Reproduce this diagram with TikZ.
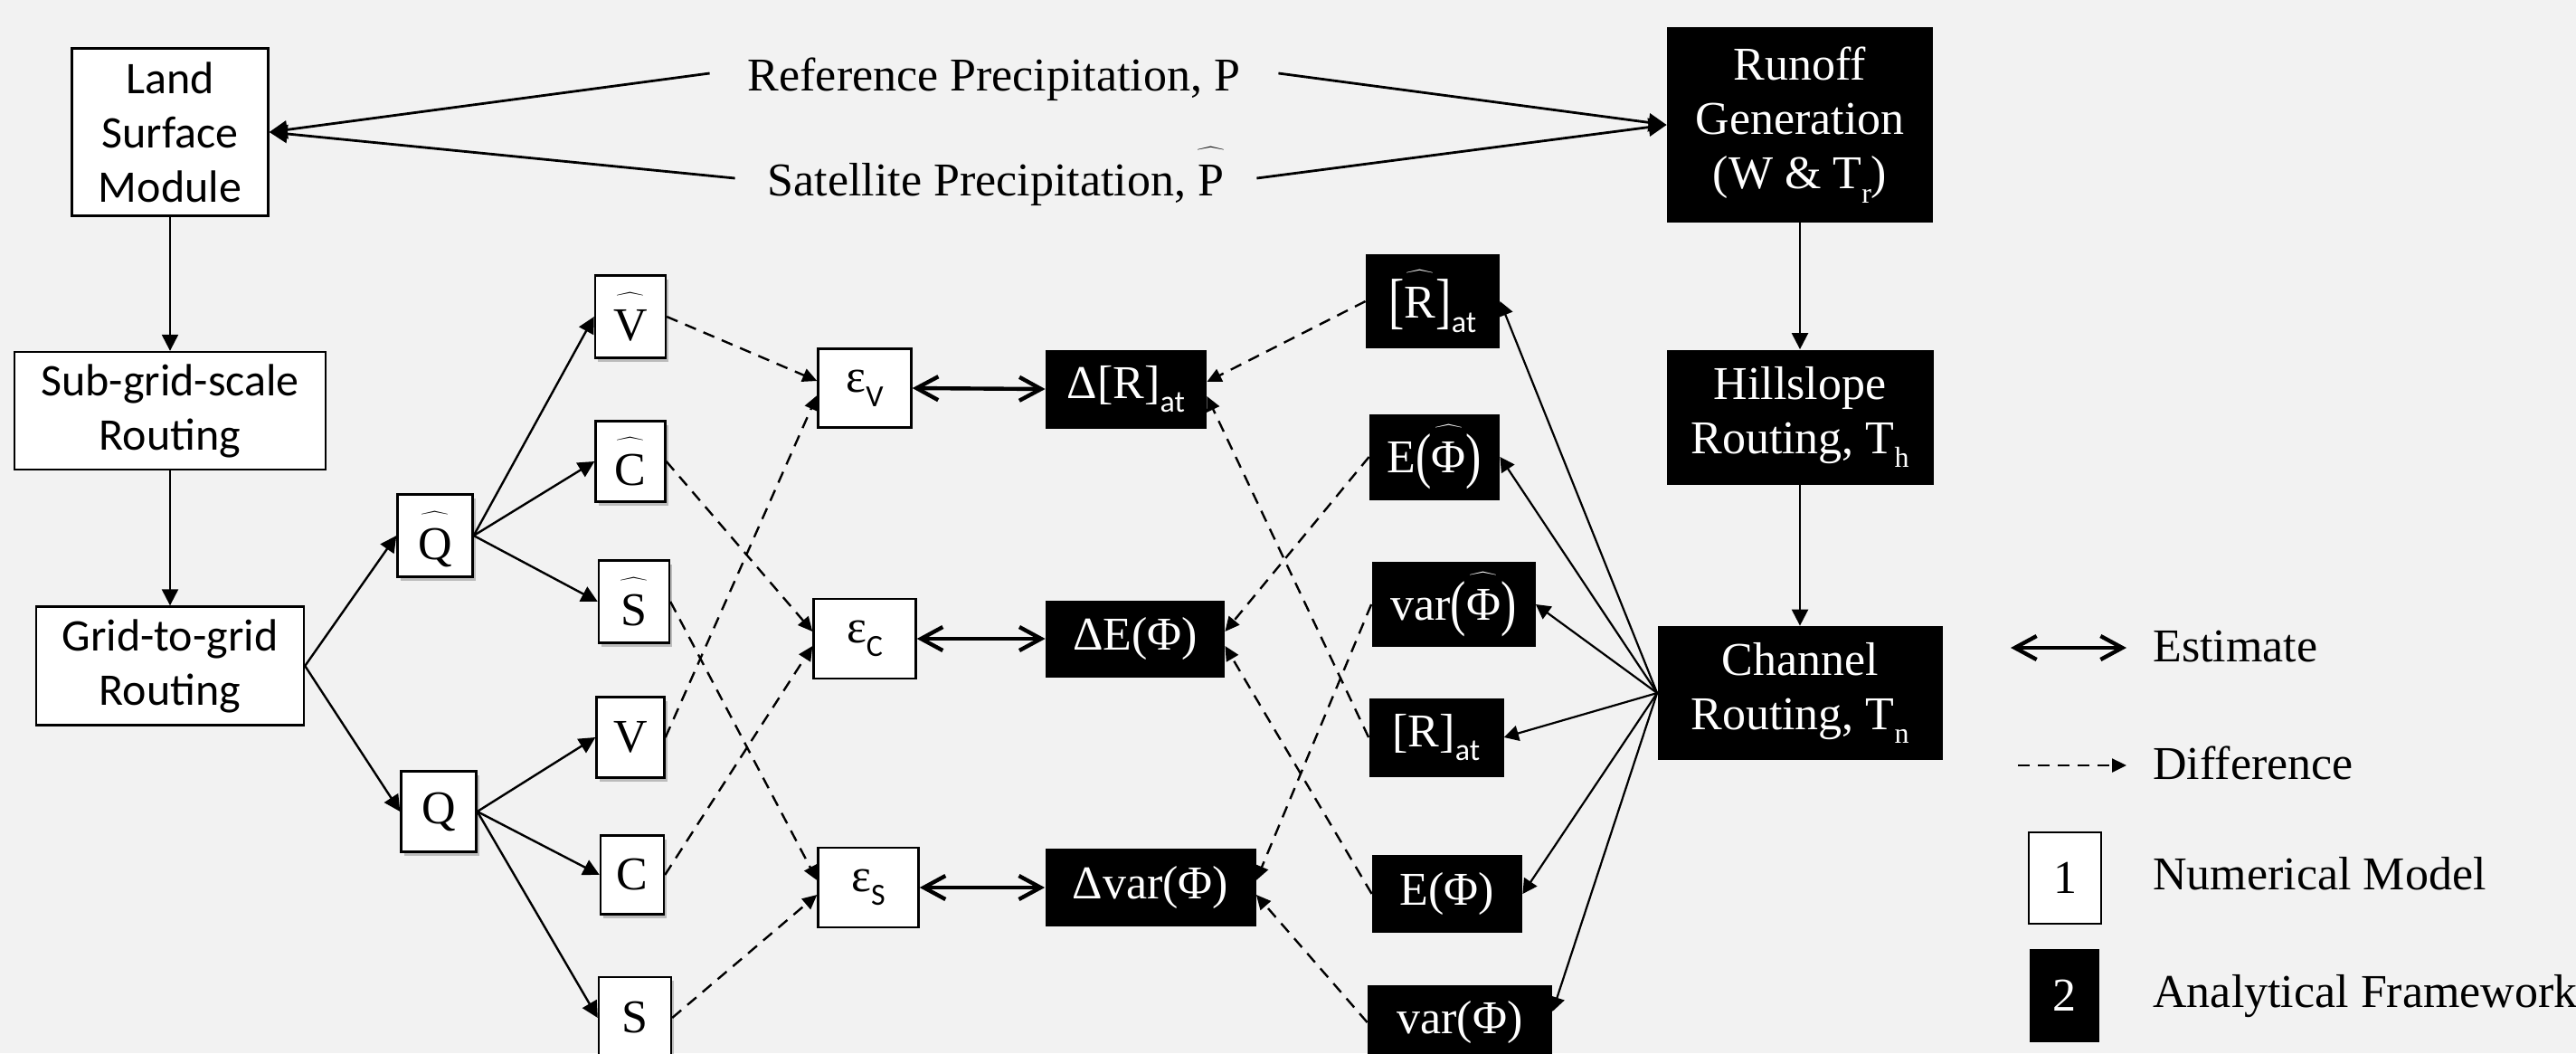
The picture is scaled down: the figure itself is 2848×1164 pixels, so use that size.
\RequirePackage{fix-cm}
\documentclass[tikz,border=0pt]{standalone}
\usepackage{fontspec}
\setmainfont{Liberation Serif}
\newfontfamily\calibri{Carlito}
\usepackage{graphicx}
\usetikzlibrary{arrows.meta,shadows}
\definecolor{bg}{HTML}{F2F2F2}
\newcommand\hatx[1]{\ensuremath{\widehat{\mbox{\raisebox{0pt}[0.9em][0pt]{#1}}}}}
\newcommand\sbs[1]{\raisebox{-0.3em}{\fontsize{16}{16}\selectfont #1}}
\newcommand\sbsf[1]{\raisebox{-0.3em}{\calibri\fontsize{17}{17}\selectfont #1}}
\newcommand\lp{\raisebox{-0.08em}{\scalebox{1}[1.3]{(}}}
\newcommand\rp{\raisebox{-0.08em}{\scalebox{1}[1.3]{)}}}
\newcommand\lb{\raisebox{-0.08em}{\scalebox{1}[1.3]{[}}}
\newcommand\rb{\raisebox{-0.08em}{\scalebox{1}[1.3]{]}}}
\tikzset{
  every node/.style={inner sep=0pt, font=\fontsize{26}{30}\selectfont},
  cal/.style={font=\calibri\fontsize{25}{30}\selectfont},
  wbox/.style={draw, line width=1.2pt, fill=white, align=center},
  bbox/.style={fill=black, text=white, align=center},
  shad/.style={drop shadow={shadow xshift=1.5pt, shadow yshift=-2pt, opacity=0.22, fill=black}},
  flow/.style={line width=1.2pt, -{Triangle[length=9pt,width=9pt]}},
  prec/.style={line width=1.4pt, -{Triangle[length=10pt,width=10pt]}},
  fan/.style={line width=1.1pt, -{Triangle[length=8pt,width=8.5pt]}},
  est/.style={line width=2.2pt, {Straight Barb[length=12pt,width=13pt]}-{Straight Barb[length=12pt,width=13pt]}},
  diff/.style={line width=1.2pt, dash pattern=on 6.5pt off 4.5pt, -{Triangle[length=8pt,width=7.5pt]}},
}
\begin{document}
\begin{tikzpicture}[x=0.5pt,y=-0.5pt]
\useasboundingbox (0,0) rectangle (2848,1164);
\clip (0,0) rectangle (2848,1164);
\fill[bg] (0,0) rectangle (2848,1164);

% left column
\node[wbox, cal, minimum width=108.5pt, minimum height=92.5pt] (land) at (188,146) {Land\\Surface\\Module};
\node[wbox, cal, minimum width=172pt, minimum height=65pt] (sub) at (188,454) {Sub-grid-scale\\Routing};
\node[wbox, cal, minimum width=148pt, minimum height=65.5pt] (grid) at (188,736) {Grid-to-grid\\Routing};

% precipitation labels
\node[text height=17pt, text depth=5pt, minimum width=314pt] (ref) at (1099,88) {Reference Precipitation, P};
\node[text height=17pt, text depth=5pt, minimum width=288pt] (sat) at (1101,204) {Satellite Precipitation, \hatx{P}};

% right column
\node[bbox, minimum width=147pt, minimum height=108pt] (run) at (1990,138) {Runoff\\Generation\\(W \& T\sbs{r})};
\node[bbox, minimum width=147.5pt, minimum height=74.5pt] (hill) at (1990,461) {Hillslope\\Routing, T\sbs{h}};
\node[bbox, minimum width=157.5pt, minimum height=74pt] (chan) at (1990,766) {Channel\\Routing, T\sbs{n}};

% Q boxes
\node[wbox, shad, minimum width=41.5pt, minimum height=45.5pt] (Qh) at (481,592) {\hatx{Q}};
\node[wbox, shad, minimum width=41.5pt, minimum height=44.5pt] (Q) at (485,897) {Q};

\node[wbox, shad, minimum width=39pt, minimum height=45.5pt] (Vh) at (697,350) {\hatx{V}};
\node[wbox, shad, minimum width=38.5pt, minimum height=44.5pt] (Ch) at (697,510) {\hatx{C}};
\node[wbox, shad, minimum width=39pt, minimum height=45.5pt] (Sh) at (701,665) {\hatx{S}};
\node[wbox, shad, minimum width=37.5pt, minimum height=44.5pt] (V) at (697,815) {V};
\node[wbox, shad, minimum width=35pt, minimum height=43.5pt] (C) at (699,967) {C};
\node[wbox, shad, minimum width=40pt, minimum height=45pt] (S) at (702,1125) {S};

% epsilon boxes
\node[wbox, minimum width=51.5pt, minimum height=43.5pt] (eV) at (956,429) {ε\sbsf{V}};
\node[wbox, minimum width=56.5pt, minimum height=44pt] (eC) at (956,706) {ε\sbsf{C}};
\node[wbox, minimum width=55.5pt, minimum height=44pt] (eS) at (960,981) {ε\sbsf{S}};

% delta boxes
\node[bbox, minimum width=89pt, minimum height=43.5pt] (dR) at (1245,430) {Δ[R]\sbsf{at}};
\node[bbox, minimum width=99pt, minimum height=42.5pt] (dE) at (1255,706) {ΔE(Φ)};
\node[bbox, minimum width=116.5pt, minimum height=43pt] (dV) at (1272,981) {Δvar(Φ)};

% statistic boxes
\node[bbox, minimum width=74pt, minimum height=52pt] (Rh) at (1584,333) {\lb\hatx{R}\rb\sbsf{at}};
\node[bbox, minimum width=72pt, minimum height=47.5pt] (Eh) at (1586,505) {E\lp\hatx{Φ}\rp};
\node[bbox, minimum width=90.5pt, minimum height=47pt] (VPh) at (1607,668) {var\lp\hatx{Φ}\rp};
\node[bbox, minimum width=74.5pt, minimum height=43.5pt] (R) at (1588,815) {[R]\sbsf{at}};
\node[bbox, minimum width=83pt, minimum height=43pt] (E) at (1600,988) {E(Φ)};
\node[bbox, minimum width=102pt, minimum height=41pt] (VP) at (1614,1130) {var(Φ)};

% legend
\coordinate (l1a) at (2223,716); \coordinate (l1b) at (2351,716);
\coordinate (l2a) at (2231,846); \coordinate (l2b) at (2351,846);
\node[wbox, line width=1pt, minimum width=40pt, minimum height=50.5pt] (k1) at (2283,970) {1};
\node[bbox, minimum width=38.5pt, minimum height=51.5pt] (k2) at (2282,1100) {2};
\node[anchor=base west] (t1) at (2380,731) {Estimate};
\node[anchor=base west] (t2) at (2380,861) {Difference};
\node[anchor=base west] (t3) at (2380,983) {Numerical Model};
\node[anchor=base west] (t4) at (2380,1113) {Analytical Framework};
\draw[est] (l1a) -- (l1b);
\draw[diff] (l2a) -- (l2b);

% solid flows
\draw[flow] (land) -- (sub);
\draw[flow] (sub) -- (grid);
\draw[flow] (grid.east) -- (Qh.west);
\draw[flow] (grid.east) -- (Q.west);
\draw[flow] (Qh.east) -- (Vh.west);
\draw[flow] (Qh.east) -- (Ch.west);
\draw[flow] (Qh.east) -- (Sh.west);
\draw[flow] (Q.east) -- (V.west);
\draw[flow] (Q.east) -- (C.west);
\draw[flow] (Q.east) -- (S.west);
\draw[flow] (run) -- (hill);
\draw[flow] (hill) -- (chan);
\draw[prec] ([yshift=3.5pt]ref.west) -- (land.east);
\draw[prec] ([yshift=3.5pt]sat.west) -- (land.east);
\draw[prec] ([yshift=3.5pt]ref.east) -- (run.west);
\draw[prec] ([yshift=3.5pt]sat.east) -- (run.west);
\draw[fan] (chan.west) -- (Rh.east);
\draw[fan] (chan.west) -- (Eh.east);
\draw[fan] (chan.west) -- (VPh.east);
\draw[fan] (chan.west) -- (R.east);
\draw[fan] (chan.west) -- (E.east);
\draw[fan] (chan.west) -- ([yshift=6pt]VP.east);

% estimates
\draw[est] (eV.east) -- (dR.west);
\draw[est] (eC.east) -- (dE.west);
\draw[est] (eS.east) -- (dV.west);

% differences
\draw[diff] (Vh.east) -- ([yshift=4pt]eV.west);
\draw[diff] (V.east) -- ([yshift=-4pt]eV.west);
\draw[diff] (Ch.east) -- ([yshift=4pt]eC.west);
\draw[diff] (C.east) -- ([yshift=-4pt]eC.west);
\draw[diff] (Sh.east) -- ([yshift=4pt]eS.west);
\draw[diff] (S.east) -- ([yshift=-4pt]eS.west);
\draw[diff] (Rh.west) -- ([yshift=4pt]dR.east);
\draw[diff] (R.west) -- ([yshift=-4pt]dR.east);
\draw[diff] (Eh.west) -- ([yshift=4pt]dE.east);
\draw[diff] (E.west) -- ([yshift=-4pt]dE.east);
\draw[diff] (VPh.west) -- ([yshift=4pt]dV.east);
\draw[diff] (VP.west) -- ([yshift=-4pt]dV.east);
\end{tikzpicture}
\end{document}
